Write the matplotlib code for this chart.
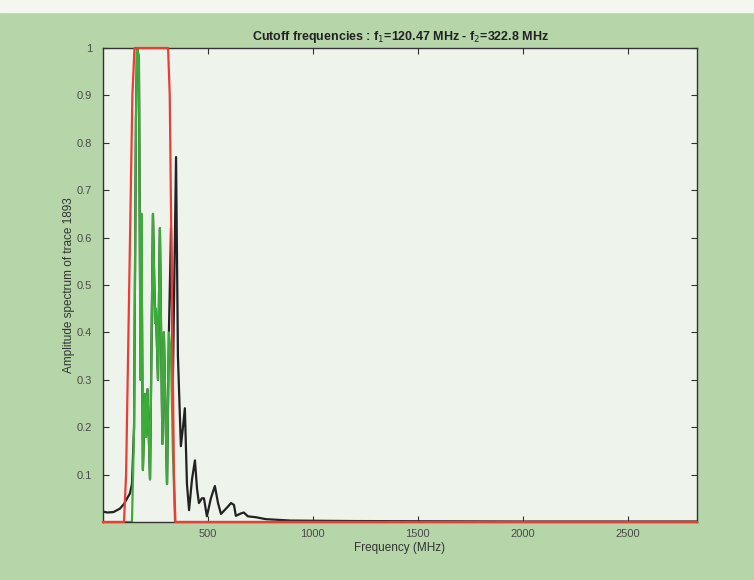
import matplotlib
matplotlib.use("Agg")
import matplotlib.pyplot as plt
from matplotlib.patches import Rectangle

# raw amplitude spectrum of the trace (black)
spec_freq = [0, 20, 50, 80, 100, 115, 128, 138, 148, 157, 162, 171, 179, 183, 190,
             200, 205, 212, 224, 238, 248, 252, 262, 271, 283, 290, 305, 314, 324,
             333, 348, 357, 371, 381, 390, 400, 410, 424, 438, 448, 457, 471, 481,
             495, 514, 533, 548, 562, 590, 610, 624, 633, 657, 671, 690, 729, 776,
             895, 1200, 2000, 2830]
spec_amp = [0.022, 0.02, 0.021, 0.028, 0.038, 0.05, 0.06, 0.08, 0.2, 0.85, 1.0, 0.98,
            0.30, 0.65, 0.11, 0.27, 0.18, 0.28, 0.09, 0.65, 0.42, 0.45, 0.30, 0.62,
            0.165, 0.40, 0.08, 0.40, 0.62, 0.30, 0.77, 0.35, 0.16, 0.20, 0.24, 0.08,
            0.025, 0.09, 0.13, 0.07, 0.04, 0.05, 0.05, 0.012, 0.05, 0.076, 0.04,
            0.017, 0.03, 0.04, 0.036, 0.013, 0.018, 0.02, 0.012, 0.01, 0.006, 0.003,
            0.002, 0.001, 0.001]

# spectrum after band-pass filtering (green)
filt_freq = [0, 128, 138, 148, 157, 162, 171, 179, 183, 190, 200, 205, 212, 224, 238,
             248, 252, 262, 271, 283, 290, 305, 314, 324, 333, 343, 2830]
filt_amp = [0.0, 0.0, 0.0, 0.2, 0.85, 1.0, 0.98, 0.30, 0.65, 0.11, 0.27, 0.18, 0.28,
            0.09, 0.65, 0.42, 0.45, 0.30, 0.62, 0.165, 0.40, 0.08, 0.40, 0.35, 0.15,
            0.0, 0.0]

# band-pass filter response (red)
bp_freq = [0, 100, 110, 125, 140, 150, 310, 318, 328, 338, 345, 2830]
bp_amp = [0, 0, 0.1, 0.5, 0.9, 1.0, 1.0, 0.9, 0.5, 0.1, 0, 0]

f1 = 120.47
f2 = 322.8

fig = plt.figure(figsize=(7.54, 5.8), dpi=100, facecolor="#b6d6aa")
fig.patches.append(Rectangle((0, 1 - 12 / 580), 1, 12 / 580, transform=fig.transFigure,
                             color="#f4f6f0", zorder=0))
ax = fig.add_axes([103 / 754, 1 - 522 / 580, 594 / 754, 474 / 580])
ax.set_facecolor("#eef3ec")

ax.plot(spec_freq, spec_amp, color="#222222", lw=1.6)
ax.plot(filt_freq, filt_amp, color="#3dab3a", lw=1.6)
ax.plot(bp_freq, bp_amp, color="#ee3b35", lw=1.6, clip_on=False, zorder=3)

ax.set_xlim(0, 2830)
ax.set_ylim(0, 1)
ax.set_xticks([500, 1000, 1500, 2000, 2500])
ax.set_yticks([0.1, 0.2, 0.3, 0.4, 0.5, 0.6, 0.7, 0.8, 0.9, 1])
ax.set_yticklabels(["0.1", "0.2", "0.3", "0.4", "0.5", "0.6", "0.7", "0.8", "0.9", "1"])
ax.tick_params(direction="in", top=True, right=True, length=4, width=0.8,
               labelsize=8, labelcolor="#4a4a4a", colors="#333333")
ax.tick_params(axis="y", pad=8)
ax.tick_params(axis="x", pad=5)
for s in ax.spines.values():
    s.set_color("#333333")
    s.set_linewidth(1.0)

font = "Liberation Sans"
for lab in ax.get_xticklabels() + ax.get_yticklabels():
    lab.set_family(font)

ax.set_title("Cutoff frequencies : f$_1$=%.2f MHz - f$_2$=%.1f MHz" % (f1, f2),
             fontsize=9, fontweight="bold", family=font, color="#222222", pad=6)
ax.set_xlabel("Frequency (MHz)", fontsize=8.5, family=font, color="#333333", labelpad=2)
ax.set_ylabel("Amplitude spectrum of trace 1893", fontsize=8.5, family=font,
              color="#333333", labelpad=1)

fig.savefig("out.png", dpi=100, facecolor=fig.get_facecolor())
